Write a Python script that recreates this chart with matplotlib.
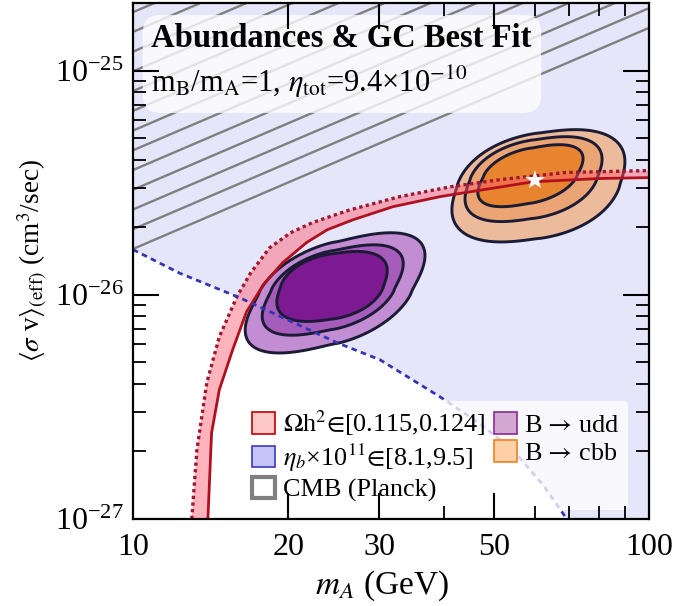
import numpy as np
import matplotlib
matplotlib.use('Agg')
import matplotlib.pyplot as plt
from matplotlib.patches import Patch, FancyBboxPatch
from matplotlib.ticker import FixedLocator, NullFormatter, FixedFormatter, LogLocator, LogFormatterSciNotation

plt.rcParams['font.family'] = ['Liberation Serif', 'DejaVu Serif']
plt.rcParams['mathtext.fontset'] = 'stix'

# ---------------- data ----------------
# relic abundance band Omega h^2 in [0.115, 0.124]
relic_upper_x = [13.0, 13.3, 13.9, 14.7, 15.9, 16.9, 18.4, 20.2, 22.3, 26.3, 32.9, 41.2, 51.4, 69.0, 100.0]
relic_upper_y = [1.0e-27, 2.03e-27, 4.05e-27, 6.49e-27, 9.8e-27, 1.25e-26, 1.62e-26, 1.89e-26,
                 2.10e-26, 2.39e-26, 2.74e-26, 3.03e-26, 3.26e-26, 3.51e-26, 3.58e-26]
relic_lower_x = [13.97, 14.2, 14.7, 15.6, 16.6, 17.9, 19.5, 21.7, 23.8, 26.7, 31.9, 39.4, 47.7, 59.6, 80.4, 100.0]
relic_lower_y = [1.0e-27, 2.42e-27, 3.77e-27, 5.68e-27, 8.4e-27, 1.11e-26, 1.39e-26, 1.71e-26,
                 1.95e-26, 2.16e-26, 2.47e-26, 2.74e-26, 2.94e-26, 3.19e-26, 3.30e-26, 3.33e-26]

# baryon asymmetry boundary eta_b
eta_x = [10.0, 12.3, 16.1, 24.9, 30.1, 39.4, 47.0, 54.5, 62.3, 69.3]
eta_y = [1.59e-26, 1.25e-26, 9.7e-27, 6.1e-27, 5.13e-27, 3.5e-27, 2.66e-27, 2.03e-27, 1.42e-27, 1.0e-27]

# CMB (Planck) bound
cmb_x = [10.0, 100.0]
cmb_y = [1.6e-26, 1.55e-25]

# GC fit contours (outer -> inner); skew = offset of the extreme points (fraction of half-width)
udd_xmin = [16.5, 17.8, 19.0]
udd_xmax = [36.8, 33.4, 31.1]
udd_ymin = [5.5e-27, 6.6e-27, 7.6e-27]
udd_ymax = [1.89e-26, 1.67e-26, 1.56e-26]
udd_skew = [0.62, 0.58, 0.45]

cbb_xmin = [41.5, 44.0, 46.6]
cbb_xmax = [89.8, 81.1, 74.5]
cbb_ymin = [1.72e-26, 2.12e-26, 2.47e-26]
cbb_ymax = [5.45e-26, 5.07e-26, 4.67e-26]
cbb_skew = [0.43, 0.47, 0.55]

best_fit_x = [60.0]
best_fit_y = [3.26e-26]

x_ticks = [10, 20, 30, 50, 100]
x_ticklabels = ['10', '20', '30', '50', '100']
x_minor = [40, 60, 70, 80, 90]

xlim = (10, 100)
ylim = (1e-27, 2.0e-25)

# ---------------- figure ----------------
fig = plt.figure(figsize=(6.75, 6.06), dpi=100)
ax = fig.add_axes([0.197, 0.1436, 0.7645, 0.8514])
ax.set_xscale('log')
ax.set_yscale('log')
ax.set_xlim(*xlim)
ax.set_ylim(*ylim)

# lavender eta_b region
poly_x = eta_x + [xlim[1], xlim[1], xlim[0]]
poly_y = eta_y + [ylim[0], ylim[1], ylim[1]]
ax.fill(poly_x, poly_y, color='#e6e6fa', lw=0, zorder=0.5)

# CMB hatching: lines parallel to the bound
ly = np.log10(cmb_y)
for k in range(0, 30):
    off = k * 0.088
    ax.plot(cmb_x, 10 ** (ly + off), color='#7f7f7f', lw=1.7, zorder=1, solid_capstyle='butt')

# contours
P = 0.85
def sp(c):
    return np.sign(c) * np.abs(c) ** P

def draw_contours(xmin, xmax, ymin, ymax, skew, colors):
    t = np.linspace(0, 2 * np.pi, 600)
    for a, b, c, d, sk, col in zip(xmin, xmax, ymin, ymax, skew, colors):
        u0 = 0.5 * (np.log10(a) + np.log10(b))
        du = 0.5 * (np.log10(b) - np.log10(a))
        v0 = 0.5 * (np.log10(c) + np.log10(d))
        dv = 0.5 * (np.log10(d) - np.log10(c))
        phi = np.arccos(sk ** (1.0 / P))
        u = u0 + du * sp(np.cos(t))
        v = v0 + dv * sp(np.cos(t - phi))
        ax.fill(10 ** u, 10 ** v, facecolor=col, edgecolor='#1b1b35', lw=2.1, zorder=2)

draw_contours(udd_xmin, udd_xmax, udd_ymin, udd_ymax, udd_skew, ['#c28dd3', '#a65cba', '#7d1a91'])
draw_contours(cbb_xmin, cbb_xmax, cbb_ymin, cbb_ymax, cbb_skew, ['#ebbb9c', '#eba574', '#e8842f'])

# relic band
bx = relic_upper_x + relic_lower_x[::-1]
by = relic_upper_y + relic_lower_y[::-1]
ax.fill(bx, by, color='#ff5a6e', alpha=0.45, lw=0, zorder=3)
ax.plot(relic_lower_x, relic_lower_y, color='#b0101e', lw=2.0, zorder=3.2)
ax.plot(relic_upper_x, relic_upper_y, color='#a0182e', lw=2.4, ls=(0, (1.0, 1.0)), zorder=3.2)

# eta_b boundary
ax.plot(eta_x, eta_y, color='#3434b4', lw=2.0, ls=(0, (2.0, 1.6)), zorder=4)

# best fit star
ax.plot(best_fit_x, best_fit_y, marker='*', color='white', ms=15, mew=0, zorder=5, ls='none')

# title box
box = FancyBboxPatch((0.019, 0.787), 0.772, 0.19, boxstyle='round,pad=0,rounding_size=0.035',
                     transform=ax.transAxes, fc='white', ec='none', alpha=0.78, zorder=6)
ax.add_patch(box)
ax.text(0.035, 0.915, 'Abundances & GC Best Fit', transform=ax.transAxes, fontsize=23.5,
        fontweight='bold', ha='left', va='baseline', zorder=7)
ax.text(0.035, 0.8275, 'm$_{\\rm B}$/m$_{\\rm A}$=1, $\\eta_{\\rm tot}$=9.4\u00d710$^{-10}$',
        transform=ax.transAxes, fontsize=22, ha='left', va='baseline', zorder=7)

# legend
handles = [
    Patch(facecolor='#ffc8c8', edgecolor='#c00000', lw=1.2, label='$\\Omega$h$^2$$\u2208$[0.115,0.124]'),
    Patch(facecolor='#c4c4f8', edgecolor='#3a3ac0', lw=1.2, label='$\\eta_b$\u00d710$^{11}$$\u2208$[8.1,9.5]'),
    Patch(facecolor='white', edgecolor='#808080', lw=3, label='CMB (Planck)'),
    Patch(facecolor='#d2a8d2', edgecolor='#8a2a90', lw=1.2, label='B $\u2192$ udd'),
    Patch(facecolor='#ffd0a8', edgecolor='#f08020', lw=1.2, label='B $\u2192$ cbb'),
]
leg = ax.legend(handles=handles, ncol=2, loc='lower right', bbox_to_anchor=(0.959, 0.018),
                borderaxespad=0, fontsize=18.8, frameon=True, fancybox=True, framealpha=0.78,
                edgecolor='none', facecolor='white', handlelength=0.88, handleheight=0.88,
                handletextpad=0.3, columnspacing=0.3, labelspacing=0.12, borderpad=0.3)
leg.set_zorder(8)

# axes styling: only in-range tick positions
def in_range(vals, lo, hi, eps=1e-4):
    return [v for v in vals if lo * (1 - eps) <= v <= hi * (1 + eps)]

ymaj_all = in_range(list(LogLocator(base=10, numticks=10).tick_values(*ylim)), *ylim)
ymin_all = in_range(list(LogLocator(base=10, subs=np.arange(2, 10), numticks=20).tick_values(*ylim)), *ylim)

ax.xaxis.set_major_locator(FixedLocator(x_ticks))
ax.xaxis.set_major_formatter(FixedFormatter(x_ticklabels))
ax.xaxis.set_minor_locator(FixedLocator(x_minor))
ax.xaxis.set_minor_formatter(NullFormatter())
ax.yaxis.set_major_locator(FixedLocator(ymaj_all))
ax.yaxis.set_major_formatter(LogFormatterSciNotation())
ax.yaxis.set_minor_locator(FixedLocator(ymin_all))
ax.yaxis.set_minor_formatter(NullFormatter())
ax.tick_params(which='both', direction='in', top=True, right=True, labelsize=23)
ax.tick_params(which='both', length=0)
ax.tick_params(axis='x', which='major', pad=10)
ax.tick_params(axis='y', which='major', pad=7)
for s in ax.spines.values():
    s.set_linewidth(1.6)
    s.set_zorder(9.5)

# tick marks drawn explicitly (inward, all four sides)
TICK_COLOR = 'black'
MAJ = 0.0504
MIN = 0.0252
xt = ax.get_xaxis_transform()
yt = ax.get_yaxis_transform()
def strictly_inside(vals, lo, hi):
    return [v for v in vals if lo * 1.0001 < v < hi / 1.0001]
for vals, ln, lw in [(strictly_inside(x_ticks, *xlim), MAJ, 1.5), (strictly_inside(x_minor, *xlim), MIN, 1.3)]:
    for p in vals:
        ax.plot([p, p], [0, ln], transform=xt, color=TICK_COLOR, lw=lw, zorder=9, clip_on=False, solid_capstyle='butt')
        ax.plot([p, p], [1, 1 - ln], transform=xt, color=TICK_COLOR, lw=lw, zorder=9, clip_on=False, solid_capstyle='butt')
for vals, ln, lw in [(strictly_inside(ymaj_all, *ylim), MAJ, 1.5), (strictly_inside(ymin_all, *ylim), MIN, 1.3)]:
    for p in vals:
        ax.plot([0, ln], [p, p], transform=yt, color=TICK_COLOR, lw=lw, zorder=9, clip_on=False, solid_capstyle='butt')
        ax.plot([1, 1 - ln], [p, p], transform=yt, color=TICK_COLOR, lw=lw, zorder=9, clip_on=False, solid_capstyle='butt')

ax.set_xlabel(r'$m_A$ (GeV)', fontsize=24, labelpad=5, x=0.482)
ax.set_ylabel(r'$\langle\sigma$ v$\rangle_{\rm (eff)}$ (cm$^3$/sec)', fontsize=19.5, labelpad=4)

fig.savefig('out.png', dpi=100)
